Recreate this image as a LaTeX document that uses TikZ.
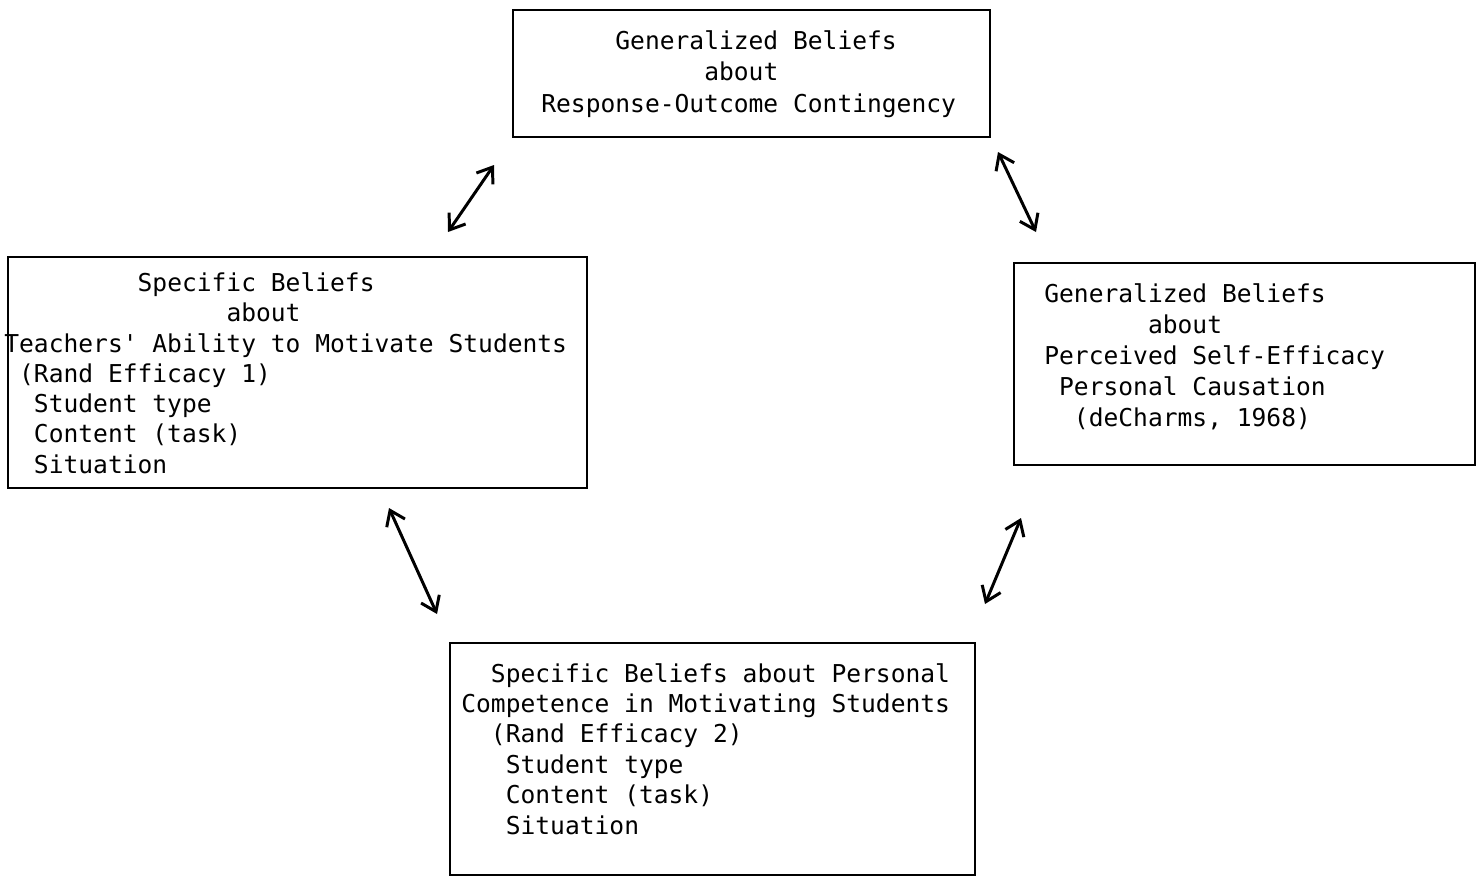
\documentclass[tikz,border=0pt]{standalone}
\usepackage{fontspec}
\setmonofont{DejaVu Sans Mono}
\usetikzlibrary{arrows.meta}
\newlength\chw
\setlength\chw{8.43pt}
\newcommand\ind[1]{\hspace*{#1\chw}}
\tikzset{
  caja/.style={draw, line width=1.1pt, inner sep=0pt, outer sep=0pt},
  texto/.style={font=\ttfamily\fontsize{14}{17.4}\selectfont, align=left, anchor=base west, inner sep=0pt},
  flecha/.style={line width=1.7pt, <->, >={Straight Barb[length=2.8mm,width=4mm]}}
}
\begin{document}
\begin{tikzpicture}[x=0.02cm, y=-0.02cm]
                \useasboundingbox (0,0) rectangle (1480,877);
                % cajas
                \node[caja, minimum width=9.54cm, minimum height=2.54cm] (resp) at (751.5,73.5) {};
                \node[caja, minimum width=11.58cm, minimum height=4.62cm] (maestros) at (297.5,372.5) {};
                \node[caja, minimum width=9.22cm, minimum height=4.04cm] (autoef) at (1244.5,364) {};
                \node[caja, minimum width=10.5cm, minimum height=4.64cm] (personal) at (712.5,759) {};
                % textos (base = ultima linea)
                \node[texto, font=\ttfamily\fontsize{14}{17.9}\selectfont] (tresp) at (541,112) {\ind{5}Generalized Beliefs\\ \ind{11}about\\ Response-Outcome Contingency};
                \node[texto, font=\ttfamily\fontsize{14}{17.2}\selectfont] (tmaestros) at (4,473) {\ind{9}Specific Beliefs\\ \ind{15}about\\ Teachers' Ability to Motivate Students\\ \ind{1}(Rand Efficacy 1)\\ \ind{2}Student type\\ \ind{2}Content (task)\\ \ind{2}Situation};
                \node[texto, font=\ttfamily\fontsize{14}{17.6}\selectfont] (tautoef) at (1044,426) {Generalized Beliefs\\ \ind{7}about\\ Perceived Self-Efficacy\\ \ind{1}Personal Causation\\ \ind{2}(deCharms, 1968)};
                \node[texto, font=\ttfamily\fontsize{14}{17.3}\selectfont] (tpersonal) at (461,834) {\ind{2}Specific Beliefs about Personal\\ Competence in Motivating Students\\ \ind{2}(Rand Efficacy 2)\\ \ind{3}Student type\\ \ind{3}Content (task)\\ \ind{3}Situation};
                % flechas
                \coordinate (a1) at (448,232);
                \coordinate (b1) at (494,165);
                \coordinate (a2) at (998,152);
                \coordinate (b2) at (1036,232);
                \coordinate (a3) at (389,508);
                \coordinate (b3) at (437,614);
                \coordinate (a4) at (1021,518);
                \coordinate (b4) at (985,604);
                \draw[flecha] (a1) -- (b1);
                \draw[flecha] (a2) -- (b2);
                \draw[flecha] (a3) -- (b3);
                \draw[flecha] (a4) -- (b4);
\end{tikzpicture}
\end{document}
